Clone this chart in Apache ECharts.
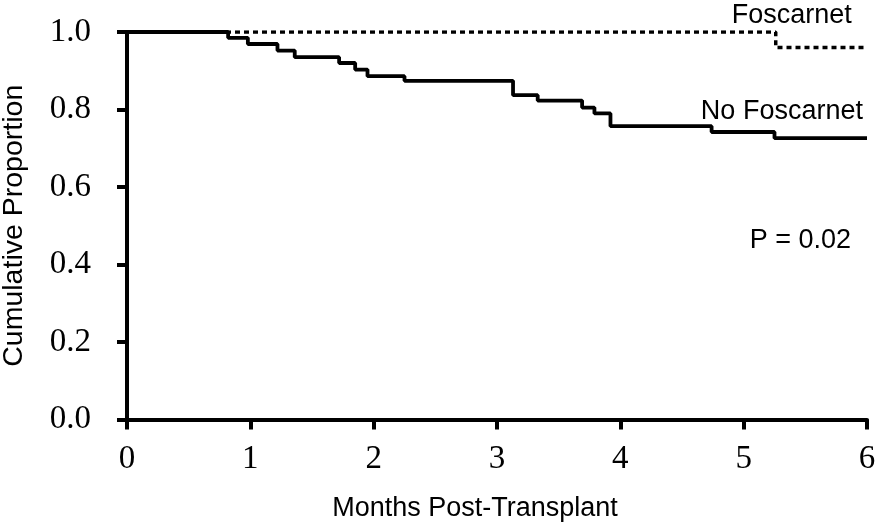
<!DOCTYPE html>
<html>
<head>
<meta charset="utf-8">
<script src="https://cdn.jsdelivr.net/npm/echarts@6/dist/echarts.min.js"></script>
<style>html,body{margin:0;padding:0;background:#fff;}#c{width:877px;height:527px;}</style>
</head>
<body>
<div id="c"></div>
<script>
// Kaplan-Meier style step data [months, cumulative proportion]
const noFoscarnet = [
  [0, 1.0], [0.82, 0.985], [0.98, 0.969], [1.22, 0.952], [1.36, 0.935],
  [1.72, 0.920], [1.85, 0.903], [1.95, 0.886], [2.25, 0.874], [3.13, 0.837],
  [3.33, 0.823], [3.69, 0.805], [3.79, 0.790], [3.92, 0.757], [4.74, 0.742],
  [5.25, 0.726], [6.0, 0.726]
];
const foscarnet = [[0, 1.0], [5.26, 0.96], [6.0, 0.96]];
const xTicks = [0, 1, 2, 3, 4, 5, 6];
const yTicks = ['0.0', '0.2', '0.4', '0.6', '0.8', '1.0'];
const annotations = [
  { text: 'Foscarnet', x: 5.39, y: 1.043 },
  { text: 'No Foscarnet', x: 5.31, y: 0.795 },
  { text: 'P = 0.02', x: 5.46, y: 0.463 }
];

const chart = echarts.init(document.getElementById('c'));
const sans = 'Liberation Sans';
const serif = 'Liberation Serif';
chart.setOption({
  animation: false,
  backgroundColor: '#fff',
  grid: { left: 127, right: 10, top: 32, bottom: 107.5, containLabel: false, outerBoundsMode: 'none' },
  xAxis: {
    type: 'value', min: 0, max: 6, interval: 1,
    name: 'Months Post-Transplant', nameLocation: 'middle', nameGap: 76,
    nameTextStyle: { fontFamily: sans, fontSize: 27, color: '#000', padding: [0, 44, 0, 0] },
    axisLine: { show: true, onZero: false, lineStyle: { color: '#000', width: 4 } },
    axisTick: { show: true, length: 10, lineStyle: { color: '#000', width: 4 } },
    axisLabel: { margin: 23, fontFamily: serif, fontSize: 33, color: '#000',
      formatter: v => String(xTicks[v] !== undefined ? xTicks[v] : v) },
    splitLine: { show: false }
  },
  yAxis: {
    type: 'value', min: 0, max: 1, interval: 0.2,
    name: 'Cumulative Proportion', nameLocation: 'middle', nameGap: 98, nameRotate: 90,
    nameTextStyle: { fontFamily: sans, fontSize: 28.5, color: '#000' },
    axisLine: { show: true, lineStyle: { color: '#000', width: 4 } },
    axisTick: { show: true, length: 10, lineStyle: { color: '#000', width: 4 } },
    axisLabel: { margin: 36, fontFamily: serif, fontSize: 33, color: '#000',
      formatter: v => yTicks[Math.round(v / 0.2)] },
    splitLine: { show: false }
  },
  series: [
    {
      name: 'Foscarnet', type: 'line', step: 'end', data: foscarnet,
      symbol: 'none', z: 2,
      lineStyle: { color: '#000', width: 3.5, type: [5, 4] }
    },
    {
      name: 'No Foscarnet', type: 'line', step: 'end', data: noFoscarnet,
      symbol: 'none', z: 3,
      lineStyle: { color: '#000', width: 3.8 }
    }
  ]
});
const g = annotations.map(a => {
  const p = chart.convertToPixel({ gridIndex: 0 }, [a.x, a.y]);
  return {
    type: 'text', x: p[0], y: p[1], z: 10,
    style: { text: a.text, fontFamily: sans, fontSize: 27, fill: '#000',
      align: 'center', verticalAlign: 'middle' }
  };
});
chart.setOption({ graphic: g });
</script>
</body>
</html>
